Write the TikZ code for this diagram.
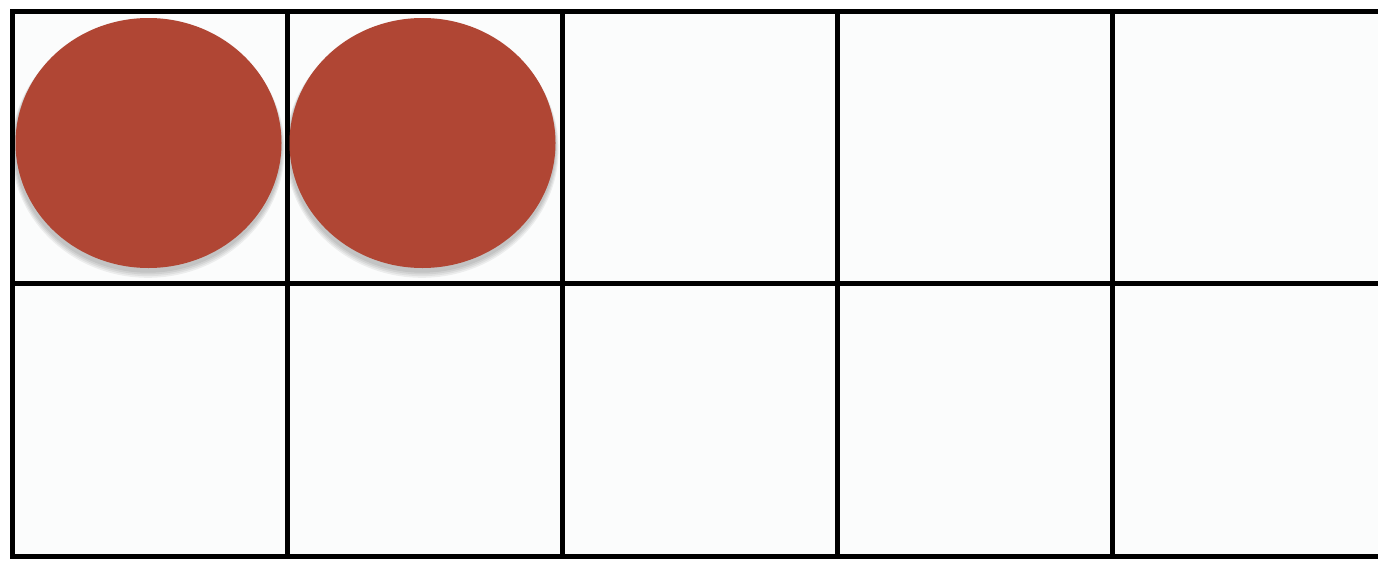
\documentclass[tikz,border=0pt]{standalone}
\usetikzlibrary{shapes.geometric}
\definecolor{counterred}{RGB}{176,70,52}
\definecolor{paper}{RGB}{251,252,252}
\tikzset{
  cell/.style={draw=black, line width=5pt, fill=paper, minimum width=275pt, minimum height=272.5pt, inner sep=0pt, outer sep=0pt},
  counter/.style={ellipse, fill=counterred, minimum width=266pt, minimum height=250pt, inner sep=0pt},
}
\begin{document}
\begin{tikzpicture}[x=1pt,y=-1pt]
\useasboundingbox (0,0) rectangle (1378,560);
\fill[white] (0,0) rectangle (1378,560);
\begin{scope}
\clip (0,0) rectangle (1378,560);
\foreach \c in {0,...,4}{
  \foreach \r in {0,1}{
    \node[cell] (cell-\r-\c) at ({12+137.5+275*\c},{11+136.25+272.5*\r}) {};
  }
}
\end{scope}
% shadows
\foreach \x in {148,422}{
  \foreach \k/\o in {1/0.06,2/0.06,3/0.06,4/0.06}{
    \fill[black,opacity=\o] (\x,{146+\k*0.8}) ellipse ({133+\k*0.9} and {125+\k*0.9});
  }
}
\node[counter] (counter1) at (148.5,143) {};
\node[counter] (counter2) at (422.5,143) {};
\end{tikzpicture}
\end{document}
